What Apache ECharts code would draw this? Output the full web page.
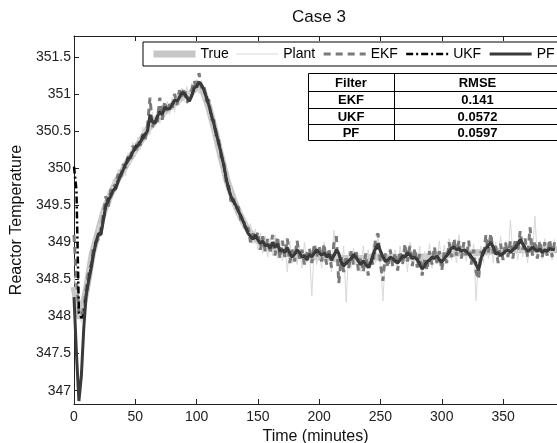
<!DOCTYPE html>
<html>
<head>
<meta charset="utf-8">
<script src="https://cdn.jsdelivr.net/npm/echarts@6/dist/echarts.min.js"></script>
<style>
  html, body { margin: 0; padding: 0; background: #fff; }
  #chart { width: 557px; height: 443px; }
</style>
</head>
<body>
<div id="chart"></div>
<script>
// ~~ Data (time in minutes)

// noisy series are sampled every 2 minutes, 0..392
const minutes = Array.from({ length: 197 }, (_, i) => i * 2)
// true state sampled every 5 minutes, 0..395
const minutesTrue = Array.from({ length: 80 }, (_, i) => i * 5)

const trueTemp = [
  348.4, 347.97, 348.35, 348.85, 349.15, 349.45, 349.65, 349.83, 349.97, 350.12,
  350.25, 350.38, 350.52, 350.62, 350.7, 350.78, 350.84, 350.92, 350.98, 351.0,
  351.1, 351.05, 350.82, 350.5, 350.15, 349.82, 349.58, 349.38, 349.22, 349.1,
  349.02, 348.97, 348.93, 348.9, 348.87, 348.85, 348.83, 348.82, 348.81, 348.8,
  348.8, 348.79, 348.79, 348.78, 348.78, 348.78, 348.78, 348.78, 348.79, 348.8,
  348.8, 348.79, 348.79, 348.79, 348.8, 348.8, 348.8, 348.8, 348.8, 348.81,
  348.82, 348.83, 348.85, 348.86, 348.86, 348.86, 348.86, 348.87, 348.88, 348.88,
  348.88, 348.89, 348.9, 348.9, 348.9, 348.9, 348.9, 348.9, 348.9, 348.9,
]

const plantTemp = [
  348.55, 348.3, 348.1, 347.92, 348.25, 348.3, 348.7, 348.68, 349.02, 349.0,
  349.25, 349.08, 349.5, 349.4, 349.7, 349.55, 349.85, 349.7, 349.98, 349.85,
  350.08, 349.9, 350.2, 350.05, 350.35, 350.15, 350.42, 350.25, 350.55, 350.38,
  350.62, 350.45, 350.75, 350.55, 350.8, 350.6, 350.85, 350.68, 350.9, 350.72,
  350.95, 350.75, 351.0, 350.85, 351.08, 350.9, 351.1, 350.92, 351.15, 351.0,
  351.2, 351.0, 351.18, 350.95, 351.05, 350.72, 350.8, 350.45, 350.55, 350.18,
  350.25, 349.92, 349.98, 349.65, 349.78, 349.45, 349.6, 349.32, 349.45, 349.18,
  349.32, 349.08, 349.25, 348.98, 349.18, 348.9, 349.12, 348.85, 349.08, 348.8,
  349.05, 348.82, 349.1, 348.78, 349.0, 348.75, 348.98, 348.6, 349.02, 348.72,
  348.95, 348.7, 348.92, 348.65, 349.0, 348.72, 348.9, 348.28, 348.95, 348.7,
  348.92, 348.65, 349.0, 348.7, 348.88, 348.6, 349.16, 348.72, 348.9, 348.62,
  348.95, 348.19, 348.88, 348.66, 348.92, 348.7, 348.85, 348.6, 348.95, 348.68,
  348.9, 348.65, 348.98, 348.72, 349.05, 348.7, 348.21, 348.85, 348.7, 348.92,
  348.68, 348.9, 348.62, 348.95, 348.7, 348.88, 348.6, 349.0, 348.72, 348.9,
  348.66, 348.95, 348.58, 348.88, 348.7, 348.98, 348.65, 348.92, 348.7, 349.02,
  348.7, 348.96, 348.74, 349.05, 348.76, 348.98, 348.72, 349.1, 348.78, 349.0,
  348.75, 349.02, 348.7, 348.98, 348.21, 348.8, 348.95, 348.72, 349.1, 348.78,
  349.05, 348.72, 349.0, 348.75, 349.08, 348.78, 349.02, 348.8, 349.3, 348.82,
  349.0, 348.76, 349.08, 348.8, 349.02, 348.72, 349.1, 348.84, 349.35, 348.8,
  349.02, 348.78, 349.05, 348.82, 349.0, 348.76, 349.04,
]

const ekfTemp = [
  349.1, 348.5, 348.05, 348.0, 348.12, 348.38, 348.62, 348.7, 348.95, 349.0,
  349.05, 349.18, 349.38, 349.62, 349.48, 349.7, 349.78, 349.74, 349.92, 349.86,
  350.05, 350.0, 350.16, 350.1, 350.3, 350.2, 350.38, 350.3, 350.46, 350.38,
  350.58, 350.95, 350.55, 350.68, 350.62, 350.95, 350.65, 350.9, 350.74, 350.86,
  350.8, 351.0, 350.85, 351.05, 350.96, 351.08, 350.88, 350.95, 351.05, 351.18,
  351.05, 351.28, 351.08, 351.12, 350.9, 350.92, 350.66, 350.65, 350.42, 350.38,
  350.15, 350.1, 349.82, 349.8, 349.55, 349.62, 349.45, 349.48, 349.3, 349.34,
  349.15, 349.2, 349.0, 349.12, 349.02, 349.14, 348.9, 349.08, 348.88, 349.05,
  348.85, 349.1, 348.82, 349.08, 348.78, 349.02, 348.8, 349.05, 348.72, 348.9,
  348.74, 349.02, 348.78, 348.9, 348.7, 348.85, 348.92, 348.72, 348.98, 348.8,
  348.95, 348.74, 348.98, 348.7, 348.92, 348.66, 348.98, 349.08, 348.45, 348.8,
  348.6, 348.82, 348.64, 348.88, 348.7, 348.9, 348.62, 348.8, 348.6, 348.85,
  348.55, 348.8, 348.7, 349.05, 349.12, 348.7, 348.48, 348.85, 348.66, 348.9,
  348.68, 348.86, 348.62, 348.88, 348.7, 348.98, 348.74, 348.95, 348.68, 348.92,
  348.66, 348.84, 348.55, 348.78, 348.62, 348.88, 348.7, 348.94, 348.72, 348.88,
  348.62, 348.86, 348.72, 349.0, 348.8, 349.05, 348.82, 349.02, 348.78, 349.0,
  348.8, 349.02, 348.7, 348.9, 348.6, 348.5, 348.88, 348.8, 349.1, 348.86,
  349.12, 348.85, 348.95, 348.72, 348.98, 348.76, 349.0, 348.8, 349.02, 348.78,
  349.05, 348.88, 349.15, 348.9, 349.05, 348.8, 349.2, 348.82, 349.02, 348.78,
  349.02, 348.8, 349.0, 348.82, 349.04, 348.8, 349.0,
]

const ukfTemp = [
  350.02, 349.7, 348.05, 347.98, 348.02, 348.3, 348.5, 348.68, 348.86, 349.02,
  349.1, 349.12, 349.32, 349.48, 349.58, 349.64, 349.7, 349.74, 349.84, 349.9,
  349.98, 350.04, 350.12, 350.16, 350.2, 350.28, 350.32, 350.34, 350.42, 350.46,
  350.52, 350.68, 350.64, 350.62, 350.68, 350.76, 350.74, 350.8, 350.82, 350.8,
  350.86, 350.9, 350.92, 350.96, 351.0, 351.01, 350.96, 350.92, 350.98, 351.06,
  351.1, 351.14, 351.12, 351.06, 350.96, 350.84, 350.72, 350.6, 350.46, 350.34,
  350.2, 350.04, 349.88, 349.74, 349.62, 349.55, 349.49, 349.42, 349.35, 349.28,
  349.2, 349.13, 349.08, 349.05, 349.08, 349.03, 348.99, 349.0, 348.96, 348.96,
  348.93, 348.98, 348.94, 348.96, 348.89, 348.9, 348.87, 348.91, 348.86, 348.81,
  348.84, 348.88, 348.86, 348.81, 348.82, 348.78, 348.83, 348.81, 348.85, 348.88,
  348.86, 348.83, 348.85, 348.81, 348.83, 348.77, 348.82, 348.88, 348.84, 348.73,
  348.7, 348.72, 348.75, 348.78, 348.82, 348.8, 348.75, 348.71, 348.74, 348.71,
  348.68, 348.72, 348.82, 348.9, 348.95, 348.88, 348.8, 348.75, 348.76, 348.79,
  348.78, 348.75, 348.73, 348.76, 348.81, 348.8, 348.84, 348.83, 348.79, 348.8,
  348.77, 348.71, 348.66, 348.69, 348.74, 348.76, 348.79, 348.78, 348.81, 348.77,
  348.74, 348.78, 348.82, 348.86, 348.9, 348.93, 348.9, 348.91, 348.88, 348.89,
  348.88, 348.85, 348.81, 348.77, 348.72, 348.65, 348.76, 348.86, 348.91, 348.95,
  348.98, 348.93, 348.85, 348.86, 348.83, 348.85, 348.87, 348.89, 348.87, 348.9,
  348.92, 348.96, 349.02, 348.98, 348.93, 348.89, 348.9, 348.93, 348.9, 348.89,
  348.9, 348.87, 348.89, 348.88, 348.91, 348.9, 348.91,
]

const pfTemp = [
  348.26, 347.5, 346.86, 347.2, 347.85, 348.3, 348.48, 348.65, 348.85, 349.0,
  349.12, 349.1, 349.3, 349.5, 349.56, 349.62, 349.7, 349.72, 349.82, 349.9,
  349.97, 350.05, 350.1, 350.15, 350.22, 350.27, 350.3, 350.35, 350.4, 350.45,
  350.5, 350.72, 350.62, 350.6, 350.7, 350.75, 350.72, 350.82, 350.8, 350.8,
  350.85, 350.92, 350.9, 350.95, 351.02, 351.0, 350.95, 350.9, 350.97, 351.08,
  351.1, 351.16, 351.12, 351.05, 350.95, 350.85, 350.72, 350.6, 350.48, 350.33,
  350.2, 350.05, 349.88, 349.72, 349.62, 349.56, 349.5, 349.42, 349.36, 349.28,
  349.2, 349.12, 349.08, 349.04, 349.1, 349.03, 348.98, 349.02, 348.95, 348.97,
  348.92, 349.0, 348.93, 348.98, 348.88, 348.9, 348.86, 348.93, 348.85, 348.8,
  348.84, 348.9, 348.86, 348.8, 348.82, 348.76, 348.84, 348.8, 348.86, 348.9,
  348.86, 348.82, 348.86, 348.8, 348.84, 348.76, 348.82, 348.9, 348.85, 348.72,
  348.68, 348.72, 348.75, 348.78, 348.84, 348.8, 348.74, 348.7, 348.75, 348.7,
  348.66, 348.72, 348.84, 348.92, 348.98, 348.88, 348.8, 348.74, 348.76, 348.8,
  348.78, 348.74, 348.72, 348.76, 348.82, 348.8, 348.86, 348.83, 348.78, 348.8,
  348.76, 348.7, 348.64, 348.68, 348.74, 348.76, 348.8, 348.78, 348.82, 348.76,
  348.73, 348.78, 348.82, 348.88, 348.92, 348.94, 348.9, 348.92, 348.88, 348.9,
  348.88, 348.84, 348.8, 348.76, 348.7, 348.62, 348.78, 348.88, 348.92, 348.96,
  349.0, 348.94, 348.84, 348.86, 348.82, 348.85, 348.88, 348.9, 348.86, 348.9,
  348.93, 348.98, 349.04, 348.98, 348.92, 348.88, 348.9, 348.94, 348.9, 348.88,
  348.91, 348.86, 348.9, 348.88, 348.92, 348.9, 348.91,
]

const yTickValues = [347, 347.5, 348, 348.5, 349, 349.5, 350, 350.5, 351, 351.5]

const tableHeader = ['Filter', 'RMSE']
const filterNames = ['EKF', 'UKF', 'PF']
const rmseValues = ['0.141', '0.0572', '0.0597']

// ~~ Chart

const FONT = '"Liberation Sans", Arial, Helvetica, sans-serif'

const _pairs = function (times, values) {
  return values.map((v, i) => [times[i], v])
}

const _line = function (name, times, values, color, width, type) {
  return {
    name: name,
    type: 'line',
    data: _pairs(times, values),
    symbol: 'none',
    showSymbol: false,
    itemStyle: { color: color },
    lineStyle: { color: color, width: width, type: type || 'solid' },
    emphasis: { disabled: true },
    animation: false,
  }
}

const _table = function () {
  const x0 = 308
  const y0 = 73
  const w = 249
  const colX = 86
  const rowY = [0, 18, 35, 51, 67]
  const children = [
    { type: 'rect', shape: { x: 0.5, y: 0.5, width: w, height: rowY[4] }, style: { fill: '#fff', stroke: '#000', lineWidth: 1 } },
    { type: 'line', shape: { x1: colX + 0.5, y1: 0, x2: colX + 0.5, y2: rowY[4] }, style: { stroke: '#000', lineWidth: 1 } },
  ]
  for (let i = 1; i < 4; i++) {
    children.push({ type: 'line', shape: { x1: 0, y1: rowY[i] + 0.5, x2: w, y2: rowY[i] + 0.5 }, style: { stroke: '#000', lineWidth: 1 } })
  }
  const rows = [tableHeader].concat(filterNames.map((n, i) => [n, rmseValues[i]]))
  rows.forEach((r, i) => {
    const cy = (rowY[i] + rowY[i + 1]) / 2 + 1
    children.push({ type: 'text', style: { x: colX / 2, y: cy, text: r[0], align: 'center', verticalAlign: 'middle', font: 'bold 13px ' + FONT, fill: '#000' } })
    children.push({ type: 'text', style: { x: (colX + w) / 2 + 2, y: cy, text: r[1], align: 'center', verticalAlign: 'middle', font: 'bold 13px ' + FONT, fill: '#000' } })
  })
  return { type: 'group', x: x0, y: y0, z: 100, children: children }
}

const option = {
  backgroundColor: '#fff',
  animation: false,
  textStyle: { fontFamily: FONT },
  title: {
    text: 'Case 3',
    left: 292,
    top: 9,
    padding: 0,
    textStyle: { fontSize: 17, fontWeight: 'normal', color: '#111', fontFamily: FONT },
  },
  legend: {
    left: 143,
    top: 42,
    width: 440,
    padding: [5, 30, 5, 7],
    itemWidth: 42,
    itemHeight: 14,
    itemGap: 7,
    borderColor: '#000',
    borderWidth: 1,
    backgroundColor: '#fff',
    z: 50,
    selectedMode: false,
    textStyle: { fontSize: 14, color: '#000', fontFamily: FONT },
    itemStyle: { opacity: 0 },
    lineStyle: { width: 'inherit' },
    data: ['True', 'Plant', 'EKF', 'UKF', 'PF'],
  },
  grid: { left: 74, right: 0, top: 36, bottom: 39, outerBoundsMode: 'none' },
  xAxis: [
    {
      type: 'value',
      min: 0,
      max: 394,
      interval: 50,
      name: 'Time (minutes)',
      nameLocation: 'middle',
      nameGap: 21,
      nameTextStyle: { fontSize: 16, color: '#111', fontFamily: FONT },
      axisLine: { show: true, lineStyle: { color: '#222', width: 1 } },
      axisTick: { show: true, inside: true, length: 5, lineStyle: { color: '#222' } },
      axisLabel: { fontSize: 14, color: '#222', margin: 6, fontFamily: FONT, showMaxLabel: false },
      splitLine: { show: false },
    },
    {
      type: 'value',
      position: 'top',
      min: 0,
      max: 394,
      interval: 50,
      axisLine: { show: true, lineStyle: { color: '#222', width: 1 } },
      axisTick: { show: true, inside: true, length: 5, lineStyle: { color: '#222' } },
      axisLabel: { show: false },
      splitLine: { show: false },
    },
  ],
  yAxis: {
    type: 'value',
    min: 346.82,
    max: 351.78,
    name: 'Reactor Temperature',
    nameLocation: 'middle',
    nameGap: 45,
    nameTextStyle: { fontSize: 16, color: '#111', fontFamily: FONT },
    axisLine: { show: true, lineStyle: { color: '#222', width: 1 } },
    axisTick: { show: true, inside: true, length: 5, customValues: yTickValues, lineStyle: { color: '#222' } },
    axisLabel: { fontSize: 14, color: '#222', margin: 3, fontFamily: FONT, customValues: yTickValues },
    splitLine: { show: false },
  },
  graphic: [_table()],
  series: [
    _line('True', minutesTrue, trueTemp, '#c6c6c6', 7),
    _line('Plant', minutes, plantTemp, '#d9d9d9', 1),
    _line('EKF', minutes, ekfTemp, '#7a7a7a', 3, [7, 5]),
    _line('UKF', minutes, ukfTemp, '#000', 2.5, [7, 3, 2, 3]),
    _line('PF', minutes, pfTemp, '#3a3a3a', 3),
  ],
}

const c = echarts.init(document.getElementById('chart'))
c.setOption(option)
</script>
</body>
</html>
